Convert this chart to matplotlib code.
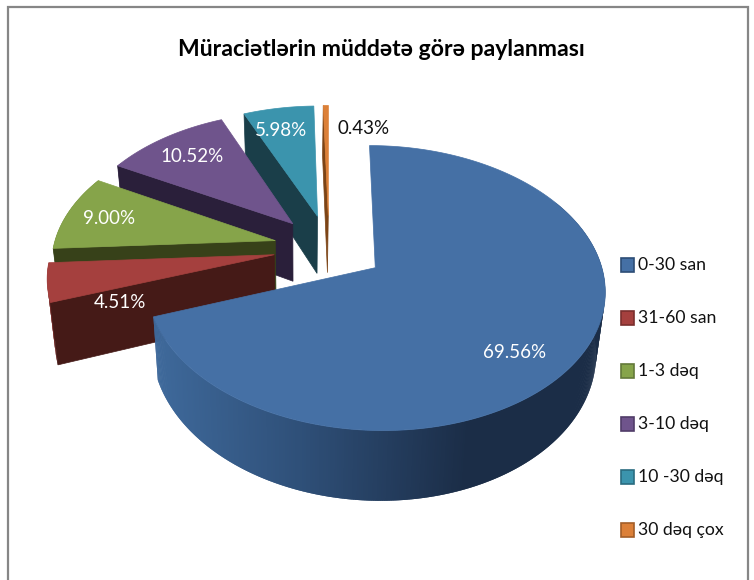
import numpy as np
import matplotlib
matplotlib.use("Agg")
import matplotlib.pyplot as plt
from matplotlib.collections import PolyCollection
from matplotlib.patches import Polygon, Rectangle

plt.rcParams["font.family"] = ["Lato", "Noto Sans", "DejaVu Sans"]

# Chart data
title = "Müraciətlərin müddətə görə paylanması"
categories = ["0-30 san", "31-60 san", "1-3 dəq", "3-10 dəq", "10 -30 dəq", "30 dəq çox"]
shares = [69.56, 4.51, 9.00, 10.52, 5.98, 0.43]

# Colours
top_colors = ["#4570a5", "#a5403e", "#86a44a", "#6f548c", "#3b94ad", "#dc8038"]
cut_colors = ["#1b2d47", "#451a17", "#374119", "#2a1f3a", "#1a3e49", "#7c4416"]
edge_colors = ["#2c4d76", "#7a2f2d", "#63793a", "#503c68", "#2a6c80", "#a35e28"]
label_colors = ["white", "white", "white", "white", "white", "#111111"]
label_pos = [(515, 352), (120, 303), (109, 219), (192, 156), (281, 131), (364, 128)]

# Projection of the pie, in pixels
cx, cy = 329, 248
rad_x, rad_y = 222, 134
persp = 0.14
explode = 0.25
depth = 59
base_scale = 0.97
base_vx = 300


def project(u, v, low=False):
    """Maps a point of the pie plane to the picture, low=True for the underside"""
    w = 1 - persp * v
    x = cx + rad_x * u / w
    y = cy + rad_y * v / w
    if low:
        x = base_vx + base_scale * (x - base_vx)
        y = y + depth / w
    return np.column_stack([x, y])


def wedge_rim(start, end, mid):
    """Outer arc and tip of one slice, angles clockwise from the top"""
    theta = np.linspace(start, end, max(int((end - start) * 2), 2) + 1)
    ou, ov = explode * np.sin(mid), -explode * np.cos(mid)
    return theta, ou + np.sin(np.radians(theta)), ov - np.cos(np.radians(theta)), ou, ov


fig = plt.figure(figsize=(7.54, 5.80), dpi=100)
ax = fig.add_axes([0, 0, 1, 1])
ax.set_xlim(0, 754)
ax.set_ylim(580, 0)
ax.axis("off")

ax.add_patch(Rectangle((8, 7), 740, 590, fc="white", ec="#868686", lw=1.6))

edges = np.cumsum([0] + shares) / sum(shares) * 360
side_x = [150, 300, 470, 610]
side_rgb = np.array([matplotlib.colors.to_rgb(c) for c in ["#3f6a9c", "#2f5079", "#1b2d47", "#1b2d47"]])

# Painted from the back slice to the front one
for i in range(len(shares) - 1, -1, -1):
    start, end = edges[i], edges[i + 1]
    theta, u, v, ou, ov = wedge_rim(start, end, np.radians((start + end) / 2))
    top = project(u, v)
    low = project(u, v, low=True)
    tip = project(np.array([ou]), np.array([ov]))[0]
    tip_low = project(np.array([ou]), np.array([ov]), low=True)[0]

    # outer wall, only the part that faces the viewer, each quad overlaps the next to hide seams
    n = len(top)
    shown = [j for j in range(n - 1) if np.cos(np.radians(theta[j])) < 0.5]
    quads = [[top[j], top[min(j + 2, n - 1)], low[min(j + 2, n - 1)], low[j]] for j in shown]
    if quads:
        if i == 0:
            mids = np.array([top[j, 0] for j in shown])
            cols = np.column_stack([np.interp(mids, side_x, side_rgb[:, c]) for c in range(3)])
        else:
            cols = [edge_colors[i]] * len(quads)
        ax.add_collection(PolyCollection(quads, facecolors=cols, edgecolors="none", zorder=2))

    # cut face on the starting edge
    if i > 0:
        ax.add_patch(Polygon([tip, top[0], low[0], tip_low], fc=cut_colors[i], ec=cut_colors[i], lw=0.5, zorder=2))

    ax.add_patch(Polygon(np.vstack([tip, top]), fc=top_colors[i], ec=top_colors[i], lw=0.5, zorder=2))

# Data labels
for i, share in enumerate(shares):
    ax.text(label_pos[i][0], label_pos[i][1], f"{share:.2f}%", color=label_colors[i], fontsize=13.5,
            ha="center", va="center", zorder=3)

# Legend
for i, name in enumerate(categories):
    y = 265 + 53 * i
    ax.add_patch(Rectangle((621, y - 7), 13, 14, fc=top_colors[i], ec=edge_colors[i], lw=1.2, zorder=3))
    ax.text(638, y, name, color="#111111", fontsize=12.7, ha="left", va="center", zorder=3)

ax.text(381, 50, title, color="black", fontsize=16.6, fontweight="bold", ha="center", va="center", zorder=3)

fig.savefig("out.png", dpi=100)
